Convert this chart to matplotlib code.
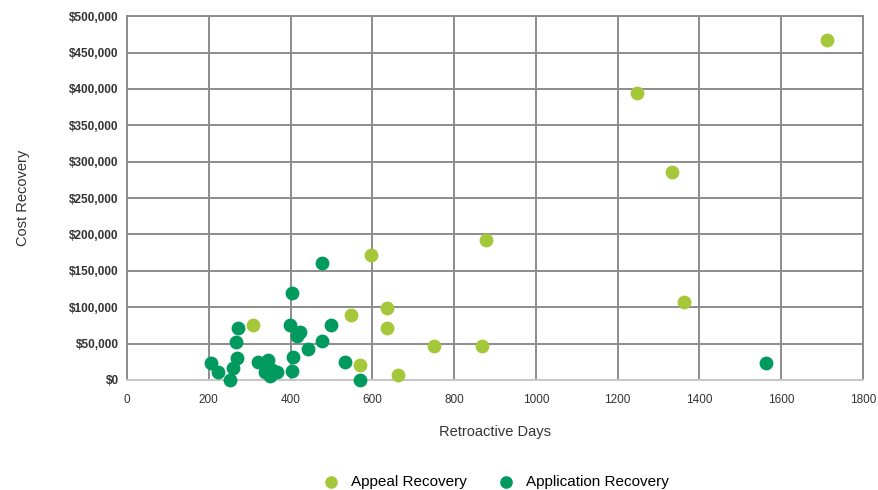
import matplotlib.pyplot as plt
from matplotlib.ticker import FuncFormatter

plt.rcParams['font.family'] = ['Liberation Sans', 'DejaVu Sans']

# Appeal Recovery
appeal_days = [307, 548, 570, 597, 637, 637, 662, 751, 869, 879, 1248, 1332, 1362, 1713]
appeal_cost = [76000, 89000, 20000, 172000, 99000, 71000, 7000, 47000, 47000, 193000,
               395000, 286000, 107000, 467000]

# Application Recovery
app_days = [206, 222, 252, 260, 267, 270, 271, 321, 337, 345, 349, 354, 366,
            399, 403, 403, 407, 415, 423, 443, 476, 477, 500, 533, 570, 1562]
app_cost = [23000, 11000, 0, 16000, 52000, 30000, 71000, 25000, 11000, 27000, 5000, 14000, 11000,
            76000, 119000, 13000, 32000, 60000, 66000, 42000, 53000, 161000, 76000, 25000, 0, 23000]

fig = plt.figure(figsize=(8.79, 4.9), dpi=100)
ax = fig.add_axes([0.1445, 0.2245, 0.8373, 0.7425])

ax.scatter(appeal_days, appeal_cost, s=80, color='#a5c83a', label='Appeal Recovery', zorder=3, clip_on=False)
ax.scatter(app_days, app_cost, s=80, color='#009a5f', label='Application Recovery', zorder=3, clip_on=False)

ax.set_xlim(0, 1800)
ax.set_ylim(0, 500000)
ax.set_xticks(range(0, 1801, 200))
ax.set_yticks(range(0, 500001, 50000))
ax.yaxis.set_major_formatter(FuncFormatter(lambda v, p: '${:,.0f}'.format(v)))

ax.grid(True, color='#8c8c8c', linewidth=1.4)
ax.set_axisbelow(True)
for s in ax.spines.values():
    s.set_color('#8c8c8c')
    s.set_linewidth(1.4)
ax.spines['bottom'].set_color('#c8c8c8')
ax.tick_params(axis='y', length=0, labelsize=8.5, colors='#333333', pad=6)
ax.tick_params(axis='x', length=0, labelsize=8.5, colors='#333333', pad=10)
for lbl in ax.get_yticklabels():
    lbl.set_fontweight('bold')

ax.set_xlabel('Retroactive Days', fontsize=10.5, color='#333333', labelpad=14)
ax.set_ylabel('Cost Recovery', fontsize=10.5, color='#333333', labelpad=28)

fig.legend(loc='center', bbox_to_anchor=(0.56, 0.017), ncol=2, frameon=False,
           fontsize=11, handletextpad=0.3, columnspacing=1.6, markerscale=0.9,
           borderpad=0.1)

fig.savefig('out.png', dpi=100)
